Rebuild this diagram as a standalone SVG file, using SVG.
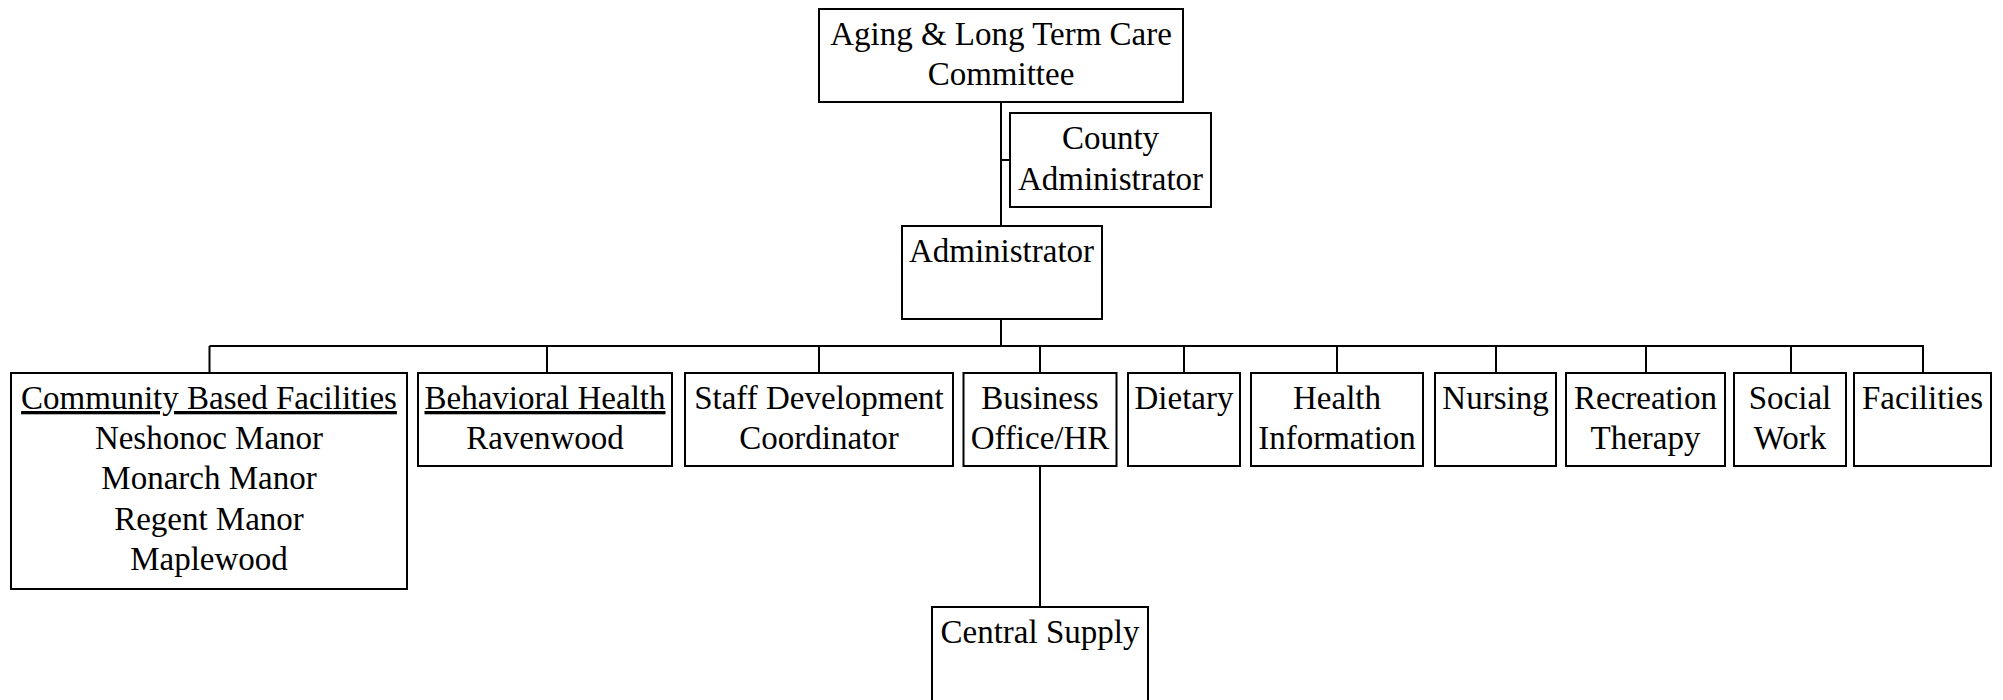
<svg xmlns="http://www.w3.org/2000/svg" width="2003" height="700" viewBox="0 0 2003 700">
<style>
.box{fill:#fff;stroke:#000;stroke-width:2}
.t{font-family:"Liberation Serif","Times New Roman",serif;font-size:33px;fill:#000;text-anchor:middle}
.u{text-decoration:underline}
.c{stroke:#000;stroke-width:2;fill:none}
</style>
<rect width="2003" height="700" fill="#fff"/>
<g id="connectors" class="c">
<path d="M1001 102V320"/>
<path d="M1001 160H1010"/>
<path d="M1001 320V346"/>
<path d="M209.5 346H1924"/>
<path d="M209.5 346V372M547 346V372M819 346V372M1040 346V372M1184 346V372M1337 346V372M1496 346V372M1646 346V372M1791 346V372M1923 346V372"/>
<path d="M1040 466V607"/>
</g>
<g id="committee"><rect class="box" x="819" y="9" width="364" height="93"/>
<text class="t" x="1001" y="45">Aging &amp; Long Term Care</text><text class="t" x="1001" y="85">Committee</text></g>
<g id="county"><rect class="box" x="1010" y="113" width="201" height="94"/>
<text class="t" x="1110.5" y="149">County</text><text class="t" x="1110.5" y="190">Administrator</text></g>
<g id="administrator"><rect class="box" x="902" y="226" width="200" height="93"/>
<text class="t" x="1001.5" y="262">Administrator</text></g>
<g id="community"><rect class="box" x="11" y="373" width="396" height="216"/>
<text class="t u" x="209" y="409">Community Based Facilities</text>
<text class="t" x="209" y="449">Neshonoc Manor</text>
<text class="t" x="209" y="489">Monarch Manor</text>
<text class="t" x="209" y="530">Regent Manor</text>
<text class="t" x="209" y="570">Maplewood</text></g>
<g id="behavioral"><rect class="box" x="418" y="373" width="254" height="93"/>
<text class="t u" x="545" y="409">Behavioral Health</text><text class="t" x="545" y="449">Ravenwood</text></g>
<g id="staff"><rect class="box" x="685" y="373" width="268" height="93"/>
<text class="t" x="819" y="409">Staff Development</text><text class="t" x="819" y="449">Coordinator</text></g>
<g id="business"><rect class="box" x="963.5" y="373" width="153" height="93"/>
<text class="t" x="1040" y="409">Business</text><text class="t" x="1040" y="449">Office/HR</text></g>
<g id="dietary"><rect class="box" x="1128" y="373" width="112" height="93"/>
<text class="t" x="1184" y="409">Dietary</text></g>
<g id="health"><rect class="box" x="1251" y="373" width="172" height="93"/>
<text class="t" x="1337" y="409">Health</text><text class="t" x="1337" y="449">Information</text></g>
<g id="nursing"><rect class="box" x="1435" y="373" width="121" height="93"/>
<text class="t" x="1495.5" y="409">Nursing</text></g>
<g id="recreation"><rect class="box" x="1566" y="373" width="159" height="93"/>
<text class="t" x="1645.5" y="409">Recreation</text><text class="t" x="1645.5" y="449">Therapy</text></g>
<g id="social"><rect class="box" x="1734" y="373" width="112" height="93"/>
<text class="t" x="1790" y="409">Social</text><text class="t" x="1790" y="449">Work</text></g>
<g id="facilities"><rect class="box" x="1854" y="373" width="137" height="93"/>
<text class="t" x="1922.5" y="409">Facilities</text></g>
<g id="central"><rect class="box" x="932" y="607" width="216" height="110"/>
<text class="t" x="1040" y="643">Central Supply</text></g>
</svg>
